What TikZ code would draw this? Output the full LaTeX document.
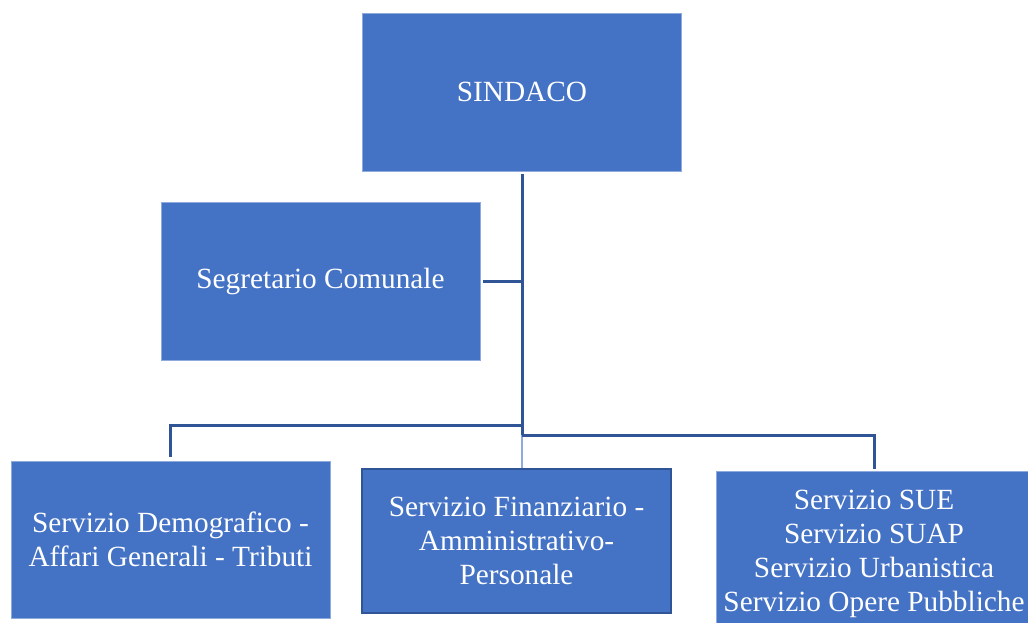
\documentclass[tikz,border=0pt]{standalone}
\usepackage{fontspec}
\setmainfont{Liberation Serif}
\usepackage{tikz}

\definecolor{boxblue}{HTML}{4472C4}
\definecolor{lineblue}{HTML}{2F5597}
\definecolor{edgelight}{HTML}{8FAADC}

\tikzset{
  office/.style={fill=boxblue, draw=edgelight, line width=0.8pt, text=white,
    align=center, inner sep=0pt, font=\fontsize{29.3}{34}\selectfont},
  link/.style={draw=lineblue, line width=3pt},
  thinlink/.style={draw=edgelight, line width=1.2pt},
}

\begin{document}
\begin{tikzpicture}[x=1pt,y=-1pt]
  \useasboundingbox (0,0) rectangle (1028,623);

  \node [office, minimum width=319pt, minimum height=158pt] (sindaco) at (522,92) {SINDACO};
  \node [office, minimum width=319pt, minimum height=158pt] (segr) at (320.5,281) {Segretario Comunale};

  \node [office, minimum width=319pt, minimum height=157pt] (demo) at (170.5,539.5)
    {Servizio Demografico -\\Affari Generali - Tributi};
  \node [office, draw=lineblue, line width=2.5pt, minimum width=309pt, minimum height=144pt] (fin) at (516.5,541)
    {Servizio Finanziario -\\Amministrativo-\\Personale};
  \node [office, minimum width=316pt, minimum height=166pt] (sue) at (874,554)
    {Servizio SUE\\Servizio SUAP\\Servizio Urbanistica\\Servizio Opere Pubbliche};

  \coordinate (jsegr) at (522,281);
  \coordinate (jleft) at (522,425);
  \coordinate (jright) at (522,435);

  \draw [thinlink] (jright) -- (jright |- fin.north);
  \draw [link, shorten <=3pt] (sindaco.south) -- (jright);
  \draw [link, shorten <=3pt] (segr.east) -- (jsegr);
  \draw [link, shorten >=4pt] (jleft) -| (demo.north);
  \draw [link, shorten >=2pt] (jright) -| (sue.north);
\end{tikzpicture}
\end{document}
